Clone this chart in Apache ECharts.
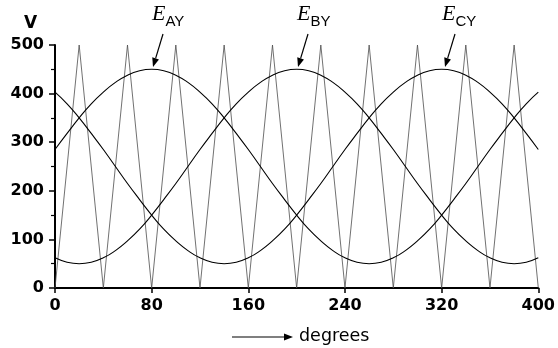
<!DOCTYPE html>
<html><head><meta charset="utf-8">
<script src="https://cdn.jsdelivr.net/npm/echarts@6/dist/echarts.min.js"></script>
<style>html,body{margin:0;padding:0;background:#fff}#c{width:558px;height:348px}</style>
</head><body><div id="c"></div>
<script>
const degrees = [0,10,20,30,40,50,60,70,80,90,100,110,120,130,140,150,160,170,180,190,200,210,220,230,240,250,260,270,280,290,300,310,320,330,340,350,360,370,380,390,400];
const eAY = [285,318,350,379,403,423,438,447,450,447,438,423,403,379,350,318,285,250,215,182,150,121,97,77,62,53,50,53,62,77,97,121,150,182,215,250,285,318,350,379,403];
const eBY = [62,53,50,53,62,77,97,121,150,182,215,250,285,318,350,379,403,423,438,447,450,447,438,423,403,379,350,318,285,250,215,182,150,121,97,77,62,53,50,53,62];
const eCY = [403,379,350,318,285,250,215,182,150,121,97,77,62,53,50,53,62,77,97,121,150,182,215,250,285,318,350,379,403,423,438,447,450,447,438,423,403,379,350,318,285];
const triX = [0,20,40,60,80,100,120,140,160,180,200,220,240,260,280,300,320,340,360,380,400];
const triY = [0,500,0,500,0,500,0,500,0,500,0,500,0,500,0,500,0,500,0,500,0];
const xTicks = [0,80,160,240,320,400];
const yTicks = [0,100,200,300,400,500];

const pair = (xs, ys) => xs.map((x,i)=>[x, ys[i]]);
const chart = echarts.init(document.getElementById('c'));
const lblFont = {fontFamily:'DejaVu Sans, sans-serif', fontWeight:'bold', fontSize:16, color:'#000'};
function eLabel(sub, x, y){
  return {type:'text', left:x, top:y, style:{
    rich:{e:{fontFamily:'Liberation Serif, Times New Roman, serif', fontStyle:'italic', fontSize:22, fill:'#000', verticalAlign:'bottom'},
          s:{fontFamily:'Liberation Sans, Arial, sans-serif', fontSize:15, fill:'#000', padding:[0,0,-4,0], verticalAlign:'bottom'}},
    text:'{e|E}{s|'+sub+'}'}};
}
function arrow(x1,y1,x2,y2,lw){
  const ang = Math.atan2(y2-y1, x2-x1), L=9, W=3.5;
  const bx = x2 - L*Math.cos(ang), by = y2 - L*Math.sin(ang);
  const px = -Math.sin(ang), py = Math.cos(ang);
  return [
    {type:'line', shape:{x1:x1,y1:y1,x2:bx,y2:by}, style:{stroke:'#000', lineWidth:lw||1.2}},
    {type:'polygon', shape:{points:[[x2,y2],[bx+px*W,by+py*W],[bx-px*W,by-py*W]]}, style:{fill:'#000'}}
  ];
}
chart.setOption({
  animation:false,
  backgroundColor:'#fff',
  grid:{left:55, right:18, top:45, bottom:60},
  xAxis:{type:'value', min:0, max:400, interval:80,
    axisLine:{lineStyle:{color:'#000', width:2}},
    axisTick:{length:5, lineStyle:{color:'#000', width:1.5}},
    axisLabel:Object.assign({margin:10, formatter:v=>xTicks.includes(v)?String(v):''}, lblFont),
    splitLine:{show:false}},
  yAxis:{type:'value', min:0, max:500, interval:100,
    axisLine:{show:true, lineStyle:{color:'#000', width:2}},
    axisTick:{show:true, length:6, lineStyle:{color:'#000', width:1.5}},
    minorTick:{show:true, splitNumber:2, length:4, lineStyle:{color:'#000', width:1.2}},
    axisLabel:Object.assign({margin:11, formatter:v=>yTicks.includes(v)?String(v):''}, lblFont),
    splitLine:{show:false}},
  graphic:[
    {type:'text', left:24, top:15, style:{text:'V', font:'bold 17px DejaVu Sans, sans-serif', fill:'#000'}},
    eLabel('AY',152,3), eLabel('BY',297,3), eLabel('CY',442,3),
    ...arrow(163,34,153,67), ...arrow(308,34,298,67), ...arrow(455,34,445,67),
    ...arrow(232,337,293,337),
    {type:'text', left:299, top:327, style:{text:'degrees', font:'17.5px DejaVu Sans, sans-serif', fill:'#000'}}
  ],
  series:[
    {type:'line', data:pair(triX,triY), showSymbol:false, lineStyle:{color:'#4d4d4d', width:0.8}, z:1},
    {type:'line', data:pair(degrees,eAY), smooth:true, showSymbol:false, lineStyle:{color:'#000', width:1.1}, z:2},
    {type:'line', data:pair(degrees,eBY), smooth:true, showSymbol:false, lineStyle:{color:'#000', width:1.1}, z:2},
    {type:'line', data:pair(degrees,eCY), smooth:true, showSymbol:false, lineStyle:{color:'#000', width:1.1}, z:2}
  ]
});
</script></body></html>
